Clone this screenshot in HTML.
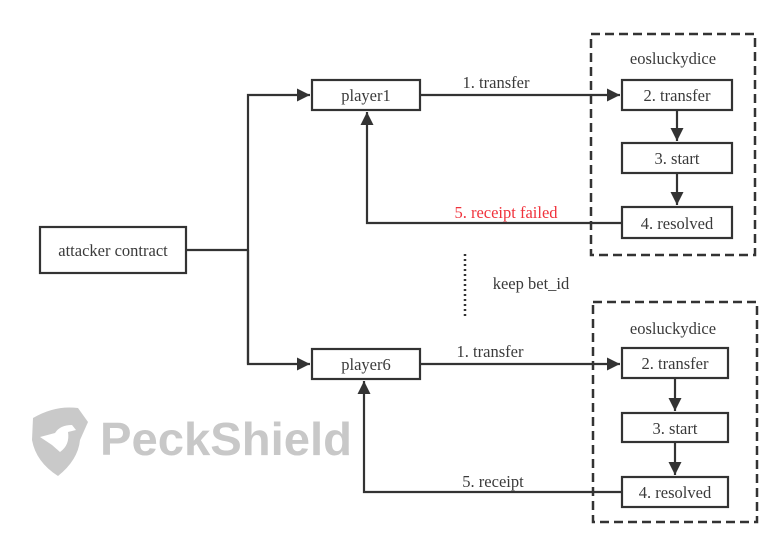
<!DOCTYPE html>
<html><head><meta charset="utf-8"><style>
html,body{margin:0;padding:0;background:#fff;}
svg{display:block;}
text{font-family:"Liberation Serif",serif;font-size:16.5px;fill:#3a3a3a;}
</style></head><body>
<svg width="773" height="538" viewBox="0 0 773 538" xmlns="http://www.w3.org/2000/svg">
<defs>
<marker id="b" viewBox="0 0 10 10" refX="10" refY="5" markerWidth="17" markerHeight="13" markerUnits="userSpaceOnUse" orient="auto">
<path d="M0,0 L10,5 L0,10 z" fill="#333"/></marker>
</defs>
<!-- watermark -->
<path d="M33,418 Q55,405 78,408 L88,422 L80,440 Q78,460 58,476 Q36,462 32,440 Z" fill="#c9c9c9"/>
<path d="M40,437 L55,433 Q60,425 72,425 L76,430 L68,432 Q70,445 60,452 L52,445 Z" fill="#fff"/>
<text x="100" y="455" style="font-family:'Liberation Sans',sans-serif;font-weight:bold;font-size:46px;fill:#c8c8c8" textLength="252" lengthAdjust="spacingAndGlyphs">PeckShield</text>

<g fill="none" stroke="#333" stroke-width="2.2">
<rect x="591" y="34" width="164" height="221" stroke-dasharray="9,5" stroke-width="2.5"/>
<rect x="593" y="302" width="164" height="220" stroke-dasharray="9,5" stroke-width="2.5"/>
<rect x="40" y="227" width="146" height="46"/>
<rect x="312" y="80" width="108" height="30"/>
<rect x="312" y="349" width="108" height="30"/>
<rect x="622" y="80" width="110" height="30"/>
<rect x="622" y="143" width="110" height="30"/>
<rect x="622" y="207" width="110" height="31"/>
<rect x="622" y="348" width="106" height="30"/>
<rect x="622" y="413" width="106" height="29"/>
<rect x="622" y="477" width="106" height="30"/>
<path d="M186,250 H248"/>
<path d="M248,364 V95 H310" marker-end="url(#b)"/>
<path d="M248,250 V364 H310" marker-end="url(#b)"/>
<path d="M420,95 H620" marker-end="url(#b)"/>
<path d="M420,364 H620" marker-end="url(#b)"/>
<path d="M677,110 V141" marker-end="url(#b)"/>
<path d="M677,173 V205" marker-end="url(#b)"/>
<path d="M675,378 V411" marker-end="url(#b)"/>
<path d="M675,442 V475" marker-end="url(#b)"/>
<path d="M622,223 H367 V112" marker-end="url(#b)"/>
<path d="M622,492 H364 V381" marker-end="url(#b)"/>
<path d="M465,254 V316" stroke-width="2.5" stroke-dasharray="2,3"/>
</g>
<g text-anchor="middle">
<text x="113" y="256">attacker contract</text>
<text x="366" y="101">player1</text>
<text x="366" y="370">player6</text>
<text x="677" y="101">2. transfer</text>
<text x="677" y="164">3. start</text>
<text x="677" y="229">4. resolved</text>
<text x="675" y="369">2. transfer</text>
<text x="675" y="434">3. start</text>
<text x="675" y="498">4. resolved</text>
<text x="673" y="64">eosluckydice</text>
<text x="673" y="334">eosluckydice</text>
<text x="496" y="88">1. transfer</text>
<text x="490" y="357">1. transfer</text>
<text x="506" y="218" style="fill:#f0323c">5. receipt failed</text>
<text x="493" y="487">5. receipt</text>
<text x="531" y="289">keep bet_id</text>
</g>
</svg>
</body></html>
